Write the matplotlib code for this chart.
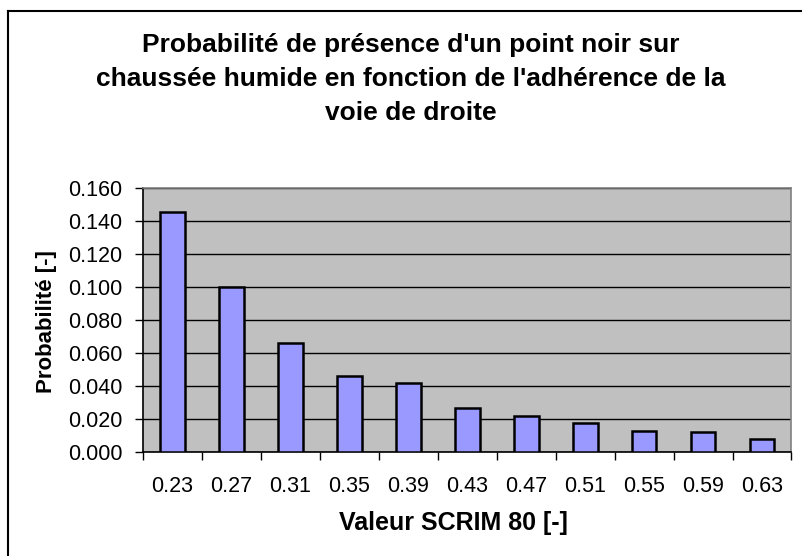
import matplotlib
matplotlib.use("Agg")
import matplotlib.pyplot as plt
from matplotlib.lines import Line2D
import numpy as np

plt.rcParams['font.family'] = ['Liberation Sans', 'DejaVu Sans']

categories = ["0.23", "0.27", "0.31", "0.35", "0.39", "0.43", "0.47", "0.51", "0.55", "0.59", "0.63"]
probabilities = [0.145, 0.100, 0.066, 0.046, 0.042, 0.027, 0.022, 0.018, 0.013, 0.012, 0.008]
yticks = [0.000, 0.020, 0.040, 0.060, 0.080, 0.100, 0.120, 0.140, 0.160]

title = "Probabilité de présence d'un point noir sur\nchaussée humide en fonction de l'adhérence de la\nvoie de droite"
xlabel = "Valeur SCRIM 80 [-]"
ylabel = "Probabilité [-]"

W, H = 803, 556
fig = plt.figure(figsize=(W / 100, H / 100), dpi=100)
fig.patch.set_facecolor("white")

left, right, bottom, top = 143, 791.5, 452.3, 187.5
ax = fig.add_axes([left / W, 1 - bottom / H, (right - left) / W, (bottom - top) / H])
ax.set_facecolor("#C0C0C0")

x = np.arange(len(categories))
ax.bar(x, probabilities, width=0.42, color="#9999FF", edgecolor="black", linewidth=1.8, zorder=3)

ax.set_xlim(-0.5, len(categories) - 0.5)
ax.set_ylim(0, 0.16)
ax.set_yticks(yticks)
ax.set_yticklabels([f"{v:.3f}" for v in yticks], fontsize=15.5)
ax.yaxis.grid(True, color="black", linewidth=1.0, zorder=1)
ax.set_axisbelow(True)

ax.set_xticks(x)
ax.set_xticklabels(categories, fontsize=15.5)
ax.tick_params(axis="x", length=0, pad=17)
ax.set_xticks(np.arange(-0.5, len(categories) + 0.5, 1), minor=True)
ax.tick_params(axis="x", which="minor", length=6, width=1, direction="out", color="black")
ax.tick_params(axis="y", length=6, width=1, direction="out", pad=9, color="black")

for s in ["left", "bottom"]:
    ax.spines[s].set_color("black")
    ax.spines[s].set_linewidth(1.2)
for s in ["top", "right"]:
    ax.spines[s].set_color("#808080")
    ax.spines[s].set_linewidth(1.2)

ax.set_xlabel(xlabel, fontsize=18, fontweight="bold")
ax.xaxis.set_label_coords((453 - left) / (right - left), (bottom - 523) / (bottom - top))
ax.xaxis.label.set_va("center")
ax.set_ylabel(ylabel, fontsize=16, fontweight="bold")
ax.yaxis.set_label_coords((47 - left) / (right - left), (bottom - 322) / (bottom - top))
ax.yaxis.label.set_va("center")

fig.text(411 / W, 1 - 79 / H, title, ha="center", va="center", fontsize=19,
         fontweight="bold", linespacing=1.55)

# outer chart border (left and top visible)
fig.add_artist(Line2D([8 / W, 8 / W], [0, 1 - 11 / H], transform=fig.transFigure, color="black", linewidth=1.5))
fig.add_artist(Line2D([8 / W, 1], [1 - 11 / H, 1 - 11 / H], transform=fig.transFigure, color="black", linewidth=1.5))

fig.savefig("out.png", dpi=100)
